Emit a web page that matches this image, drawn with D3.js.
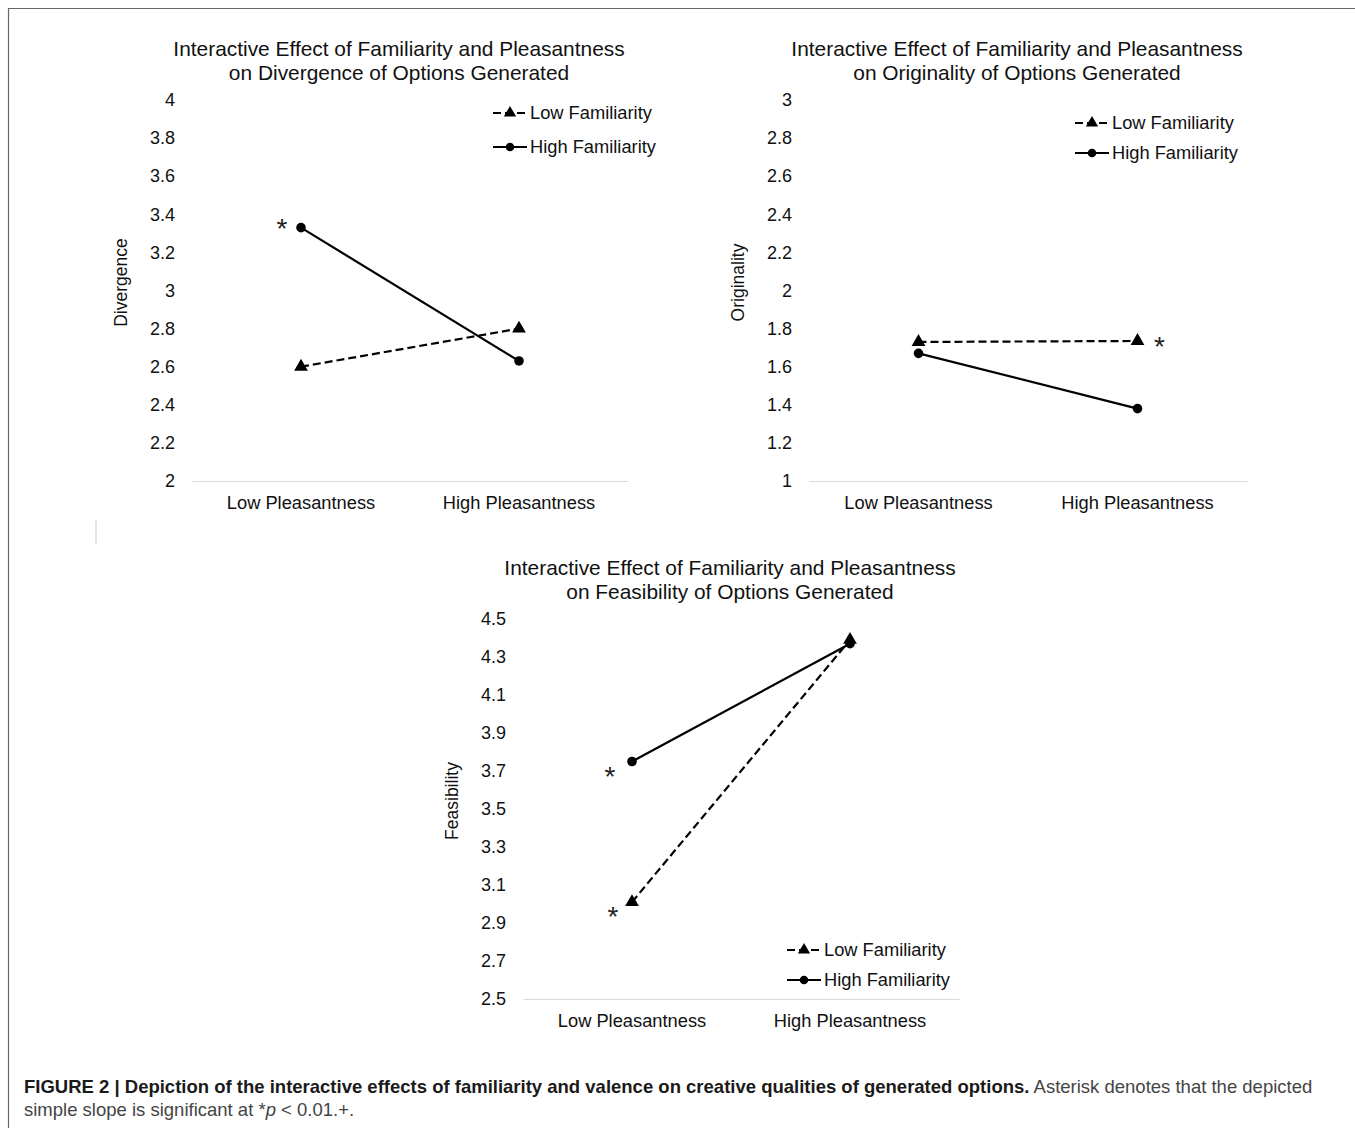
<!DOCTYPE html>
<html>
<head>
<meta charset="utf-8">
<script src="https://cdn.jsdelivr.net/npm/d3@7"></script>
<style>
  body { margin: 0; background: #fff; }
  svg { display: block; font-family: "Liberation Sans", Arial, sans-serif; }
  .tick-label { font-size: 18px; fill: #111; }
  .cat-label { font-size: 18.3px; fill: #111; }
  .title { font-size: 20.9px; fill: #111; }
  .ylabel { font-size: 17.5px; fill: #111; }
  .legend-text { font-size: 18.3px; fill: #111; }
  .star { font-size: 28px; fill: #222; }
</style>
</head>
<body>
<div id="chart"></div>
<script>
// values
const categories = ["Low Pleasantness", "High Pleasantness"];
const seriesNames = ["Low Familiarity", "High Familiarity"];

const divergenceLowFam = [2.6, 2.8];
const divergenceHighFam = [3.33, 2.63];
const divergenceTicks = [2, 2.2, 2.4, 2.6, 2.8, 3, 3.2, 3.4, 3.6, 3.8, 4];

const originalityLowFam = [1.73, 1.735];
const originalityHighFam = [1.67, 1.38];
const originalityTicks = [1, 1.2, 1.4, 1.6, 1.8, 2, 2.2, 2.4, 2.6, 2.8, 3];

const feasibilityLowFam = [3.01, 4.39];
const feasibilityHighFam = [3.75, 4.37];
const feasibilityTicks = [2.5, 2.7, 2.9, 3.1, 3.3, 3.5, 3.7, 3.9, 4.1, 4.3, 4.5];

// significant simple slopes: [series index, category index]
const divergenceStars = [[1, 0]];
const originalityStars = [[0, 1]];
const feasibilityStars = [[1, 0], [0, 0]];

const W = 1355, H = 1128;

const svg = d3.select("#chart").append("svg")
  .attr("width", W)
  .attr("height", H);

// frame (top + left only, the rest falls off the page)
svg.append("path")
  .attr("d", "M8.5,1128 V8.5 H1355")
  .attr("fill", "none")
  .attr("stroke", "#666")
  .attr("stroke-width", 1.2);

// small stray mark under the first panel
svg.append("line")
  .attr("x1", 96).attr("x2", 96)
  .attr("y1", 520).attr("y2", 544)
  .attr("stroke", "#ddd")
  .attr("stroke-width", 1.5);

const panels = [
  {
    title: ["Interactive Effect of Familiarity and Pleasantness", "on Divergence of Options Generated"],
    yLabel: "Divergence",
    series: [divergenceLowFam, divergenceHighFam],
    ticks: divergenceTicks,
    stars: divergenceStars,
    starOffset: [[-19, 10]],
    x0: 192, x1: 628, yTop: 100, yBottom: 481,
    legend: { x: 493, y: 113, gap: 34 }
  },
  {
    title: ["Interactive Effect of Familiarity and Pleasantness", "on Originality of Options Generated"],
    yLabel: "Originality",
    series: [originalityLowFam, originalityHighFam],
    ticks: originalityTicks,
    stars: originalityStars,
    starOffset: [[22, 15]],
    x0: 809, x1: 1247, yTop: 100, yBottom: 481,
    legend: { x: 1075, y: 123, gap: 30 }
  },
  {
    title: ["Interactive Effect of Familiarity and Pleasantness", "on Feasibility of Options Generated"],
    yLabel: "Feasibility",
    series: [feasibilityLowFam, feasibilityHighFam],
    ticks: feasibilityTicks,
    stars: feasibilityStars,
    starOffset: [[-22, 24], [-19, 24]],
    x0: 523, x1: 959, yTop: 619, yBottom: 999,
    legend: { x: 787, y: 950, gap: 30 }
  }
];

const dashes = ["8,4", null];
const symbols = [d3.symbolTriangle, d3.symbolCircle];
const symbolSize = [82, 72];

panels.forEach(p => {
  const g = svg.append("g");

  const x = d3.scaleBand()
    .domain(categories)
    .range([p.x0, p.x1]);

  const y = d3.scaleLinear()
    .domain(d3.extent(p.ticks))
    .range([p.yBottom, p.yTop]);

  const cx = c => x(c) + x.bandwidth() / 2;

  // titles
  const tx = (p.x0 + p.x1) / 2 - 11;
  p.title.forEach((t, i) => {
    g.append("text")
      .attr("class", "title")
      .attr("x", tx)
      .attr("y", p.yTop - 44 + i * 24)
      .attr("text-anchor", "middle")
      .text(t);
  });

  // y axis: labels only, no line
  const yAxis = d3.axisLeft(y)
    .tickValues(p.ticks)
    .tickSize(0)
    .tickPadding(17)
    .tickFormat(d3.format("~g"));
  const ya = g.append("g")
    .attr("transform", `translate(${p.x0},0)`)
    .call(yAxis);
  ya.select(".domain").remove();
  ya.selectAll("text")
    .attr("class", "tick-label")
    .attr("font-family", null)
    .attr("font-size", null);

  // x axis: thin grey baseline + category names
  const xAxis = d3.axisBottom(x).tickSize(0).tickPadding(15);
  const xa = g.append("g")
    .attr("transform", `translate(0,${p.yBottom})`)
    .call(xAxis);
  xa.select(".domain")
    .attr("stroke", "#d9d9d9")
    .attr("stroke-width", 1.2);
  xa.selectAll("text")
    .attr("class", "cat-label")
    .attr("font-family", null)
    .attr("font-size", null);

  // y label
  g.append("text")
    .attr("class", "ylabel")
    .attr("transform", `translate(${p.x0 - 65},${(p.yTop + p.yBottom) / 2 - 8}) rotate(-90)`)
    .attr("text-anchor", "middle")
    .text(p.yLabel);

  const line = d3.line()
    .x((d, i) => cx(categories[i]))
    .y(d => y(d));

  p.series.forEach((vals, si) => {
    g.append("path")
      .datum(vals)
      .attr("d", line)
      .attr("fill", "none")
      .attr("stroke", "#000")
      .attr("stroke-width", 2.2)
      .attr("stroke-dasharray", dashes[si]);

    g.selectAll(null)
      .data(vals)
      .join("path")
      .attr("d", d3.symbol(symbols[si], symbolSize[si]))
      .attr("transform", (d, i) => `translate(${cx(categories[i])},${y(d)})`)
      .attr("fill", "#000");
  });

  // asterisks
  p.stars.forEach(([si, ci], k) => {
    const [dx, dy] = p.starOffset[k];
    g.append("text")
      .attr("class", "star")
      .attr("x", cx(categories[ci]) + dx)
      .attr("y", y(p.series[si][ci]) + dy)
      .attr("text-anchor", "middle")
      .text("*");
  });

  // legend
  seriesNames.forEach((name, si) => {
    const ly = p.legend.y + si * p.legend.gap;
    const lg = g.append("g").attr("transform", `translate(${p.legend.x},${ly})`);
    lg.append("line")
      .attr("x1", 0).attr("x2", 34)
      .attr("stroke", "#000")
      .attr("stroke-width", 2.2)
      .attr("stroke-dasharray", dashes[si]);
    lg.append("path")
      .attr("d", d3.symbol(symbols[si], symbolSize[si] * 0.8))
      .attr("transform", "translate(17,0)")
      .attr("fill", "#000");
    lg.append("text")
      .attr("class", "legend-text")
      .attr("x", 37)
      .attr("dy", "0.35em")
      .text(name);
  });
});

// caption
const cap = svg.append("text")
  .attr("x", 24)
  .attr("y", 1093)
  .attr("font-size", 18.5)
  .attr("fill", "#444");
cap.append("tspan")
  .attr("font-weight", "bold")
  .attr("fill", "#1a1a1a")
  .text("FIGURE 2 | Depiction of the interactive effects of familiarity and valence on creative qualities of generated options.");
cap.append("tspan")
  .text(" Asterisk denotes that the depicted");

const cap2 = svg.append("text")
  .attr("x", 24)
  .attr("y", 1116)
  .attr("font-size", 18.5)
  .attr("fill", "#444");
cap2.append("tspan").text("simple slope is significant at *");
cap2.append("tspan").attr("font-style", "italic").text("p");
cap2.append("tspan").text(" < 0.01.+.");
</script>
</body>
</html>
